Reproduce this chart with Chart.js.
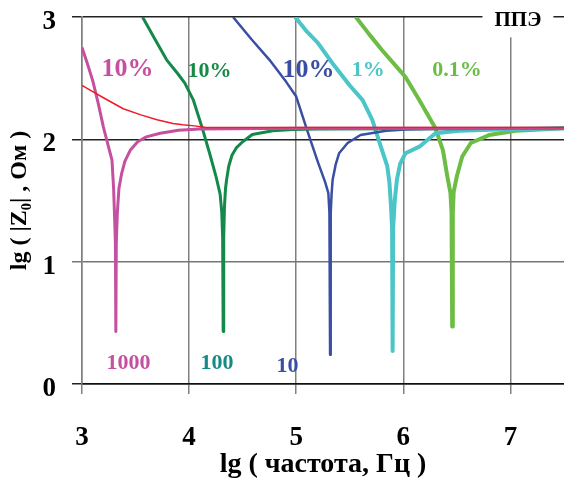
<!DOCTYPE html>
<html>
<head>
<meta charset="utf-8">
<script src="https://cdn.jsdelivr.net/npm/chart.js@4.4.1/dist/chart.umd.min.js"></script>
<style>
html,body{margin:0;padding:0;background:#fff;}
#wrap{width:564px;height:484px;}
</style>
</head>
<body>
<div id="wrap"><canvas id="c" width="564" height="484"></canvas></div>
<script>
// ---- data (lg frequency, lg |Z0|) ----
const xTicks = [3, 4, 5, 6, 7];
const yTicks = [0, 1, 2, 3];

const redX = [3.00, 3.10, 3.20, 3.385, 3.55, 3.70, 3.85, 3.94, 4.05, 4.16, 5.00, 6.00, 7.00, 7.50];
const redY = [2.44, 2.39, 2.34, 2.25, 2.20, 2.16, 2.13, 2.12, 2.11, 2.097, 2.097, 2.097, 2.097, 2.097];

const pinkX = [3.00, 3.05, 3.10, 3.15, 3.20, 3.25, 3.28, 3.295, 3.305, 3.312, 3.316, 3.32, 3.33, 3.345, 3.37, 3.40, 3.45, 3.52, 3.60, 3.73, 3.90, 4.10, 5.00, 6.00, 7.50];
const pinkY = [2.75, 2.62, 2.48, 2.30, 2.10, 1.93, 1.83, 1.60, 1.35, 1.15, 0.43, 1.15, 1.40, 1.60, 1.72, 1.82, 1.91, 1.98, 2.02, 2.05, 2.075, 2.085, 2.09, 2.09, 2.09];

const greenX = [3.565, 3.68, 3.79, 3.90, 3.96, 4.04, 4.12, 4.19, 4.25, 4.29, 4.305, 4.313, 4.318, 4.323, 4.33, 4.34, 4.35, 4.37, 4.40, 4.44, 4.50, 4.59, 4.78, 4.97, 5.20, 7.50];
const greenY = [3.00, 2.82, 2.65, 2.53, 2.46, 2.32, 2.10, 1.89, 1.70, 1.55, 1.40, 1.20, 0.43, 1.20, 1.45, 1.60, 1.67, 1.78, 1.87, 1.93, 1.98, 2.04, 2.07, 2.08, 2.085, 2.09];

const blueX = [4.41, 4.58, 4.75, 4.906, 5.00, 5.10, 5.20, 5.27, 5.30, 5.31, 5.316, 5.322, 5.33, 5.34, 5.37, 5.40, 5.48, 5.60, 5.84, 6.02, 6.30, 7.50];
const blueY = [3.00, 2.82, 2.65, 2.47, 2.35, 2.08, 1.82, 1.65, 1.56, 1.40, 0.24, 1.40, 1.55, 1.67, 1.80, 1.886, 1.97, 2.035, 2.07, 2.08, 2.085, 2.09];

const cyanX = [4.99, 5.10, 5.20, 5.34, 5.50, 5.62, 5.71, 5.79, 5.85, 5.87, 5.885, 5.895, 5.90, 5.905, 5.92, 5.94, 5.97, 6.02, 6.15, 6.30, 6.52, 6.89, 7.20, 7.50];
const cyanY = [3.00, 2.88, 2.79, 2.62, 2.44, 2.32, 2.16, 1.94, 1.78, 1.65, 1.45, 1.28, 0.27, 1.28, 1.50, 1.67, 1.80, 1.886, 1.94, 2.05, 2.07, 2.08, 2.085, 2.09];

const lgreenX = [5.557, 5.68, 5.80, 5.96, 6.02, 6.15, 6.30, 6.37, 6.41, 6.44, 6.45, 6.456, 6.462, 6.47, 6.50, 6.55, 6.63, 6.80, 7.05, 7.36, 7.50];
const lgreenY = [3.00, 2.86, 2.73, 2.57, 2.51, 2.32, 2.09, 1.91, 1.70, 1.56, 1.40, 0.47, 1.40, 1.57, 1.70, 1.86, 1.97, 2.035, 2.07, 2.085, 2.09];

// text annotations placed in data coordinates
const annotations = [
  {text: '10%',  x: 3.424, y: 2.573, color: '#c4509f', size: 26},
  {text: '10%',  x: 4.190, y: 2.560, color: '#178a48', size: 22},
  {text: '10%',  x: 5.114, y: 2.565, color: '#3a4fa3', size: 26},
  {text: '1%',   x: 5.672, y: 2.565, color: '#4cc5c9', size: 22},
  {text: '0.1%', x: 6.500, y: 2.565, color: '#6cbd45', size: 22},
  {text: '1000', x: 3.435, y: 0.166, color: '#c4509f', size: 22},
  {text: '100',  x: 4.260, y: 0.167, color: '#168a84', size: 22},
  {text: '10',   x: 4.918, y: 0.145, color: '#3a4fa3', size: 22}
];
const boxLabel = {text: 'ППЭ', x: 7.07, y: 2.973, size: 21};

const FONT = "'Liberation Serif','Times New Roman',serif";
const pts = (xs, ys) => xs.map((x, i) => ({x: x, y: ys[i]}));

const labelPlugin = {
  id: 'labels',
  afterDraw(chart) {
    const c = chart.ctx, xs = chart.scales.x, ys = chart.scales.y;
    c.save();
    c.textAlign = 'center';
    c.textBaseline = 'middle';
    annotations.forEach(a => {
      c.font = 'bold ' + a.size + 'px ' + FONT;
      c.fillStyle = a.color;
      c.fillText(a.text, xs.getPixelForValue(a.x), ys.getPixelForValue(a.y));
    });
    // boxed ППЭ label
    c.font = 'bold ' + boxLabel.size + 'px ' + FONT;
    const px = xs.getPixelForValue(boxLabel.x), py = ys.getPixelForValue(boxLabel.y);
    const w = c.measureText(boxLabel.text).width;
    c.fillStyle = '#fff';
    c.fillRect(px - w / 2 - 12, 0, w + 24, py + 17);
    c.fillStyle = '#000';
    c.fillText(boxLabel.text, px, py);
    c.restore();
  }
};

new Chart(document.getElementById('c'), {
  type: 'line',
  data: {
    datasets: [
      {label: 'ППЭ', data: pts(redX, redY), borderColor: '#ee1c24', borderWidth: 1.5, order: 0},
      {label: '1000', data: pts(pinkX, pinkY), borderColor: '#c4509f', borderWidth: 3, order: 1},
      {label: '100', data: pts(greenX, greenY), borderColor: '#13894a', borderWidth: 3, order: 2},
      {label: '10', data: pts(blueX, blueY), borderColor: '#3a4fa3', borderWidth: 2.5, order: 3},
      {label: '1%', data: pts(cyanX, cyanY), borderColor: '#4cc5c9', borderWidth: 4, order: 4},
      {label: '0.1%', data: pts(lgreenX, lgreenY), borderColor: '#6cbd45', borderWidth: 4, order: 5}
    ]
  },
  options: {
    responsive: false,
    animation: false,
    devicePixelRatio: 1,
    elements: {
      point: {radius: 0, hoverRadius: 0},
      line: {tension: 0, borderJoinStyle: 'round', fill: false}
    },
    layout: {padding: {top: 17, right: 0, bottom: 0, left: 0}},
    plugins: {legend: {display: false}, tooltip: {enabled: false}},
    scales: {
      x: {
        type: 'linear', min: 3, max: 7.5,
        afterBuildTicks: s => { s.ticks = xTicks.map(v => ({value: v})); },
        afterFit: s => { s.height = 100; s.paddingLeft = 0; s.paddingRight = 0; },
        grid: {color: '#808080', lineWidth: 1.5, tickLength: 10, drawTicks: true},
        border: {color: '#111', width: 1.5},
        ticks: {font: {family: FONT, size: 27, weight: 'bold'}, color: '#000', padding: 28, maxRotation: 0, autoSkip: false},
        title: {display: true, text: 'lg ( частота, Гц )', color: '#000',
                font: {family: FONT, size: 28, weight: 'bold'}, padding: {top: 0, bottom: 2}}
      },
      y: {
        type: 'linear', min: 0, max: 3,
        afterBuildTicks: s => { s.ticks = yTicks.map(v => ({value: v})); },
        afterFit: s => { s.width = 82; s.paddingTop = 0; s.paddingBottom = 0; },
        grid: {color: c => (c.tick && c.tick.value === 1) ? '#777' : '#222', lineWidth: 1.5, tickLength: 10, drawTicks: true},
        border: {color: '#808080', width: 1.5},
        ticks: {font: {family: FONT, size: 27, weight: 'bold'}, color: '#000', padding: 16, labelOffset: 5},
        title: {display: true, text: 'lg ( |Z₀| , Ом )', color: '#000',
                font: {family: FONT, size: 24, weight: 'bold'}, padding: {top: 5, bottom: 0}}
      }
    }
  },
  plugins: [labelPlugin]
});
</script>
</body>
</html>
